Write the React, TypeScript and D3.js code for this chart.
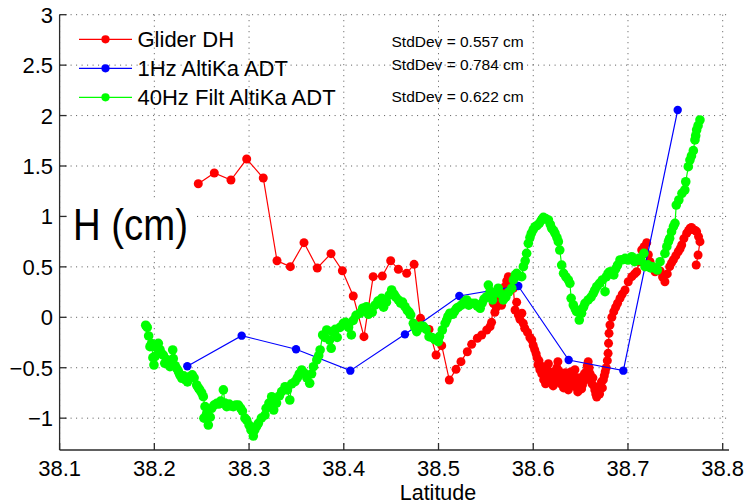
import React from "react";
import * as d3 from "d3";

// ---- Data (latitude, height cm) ----
const gliderDH: [number, number][] = [
  [38.2464, 1.324], [38.2633, 1.431], [38.2809, 1.361], [38.2975, 1.569], [38.315, 1.381],
  [38.3295, 0.561], [38.3436, 0.502], [38.358, 0.74], [38.372, 0.489], [38.3865, 0.631],
  [38.3985, 0.462], [38.41, 0.211], [38.4213, -0.192], [38.431, 0.403], [38.4407, 0.41],
  [38.4495, 0.561], [38.4576, 0.476], [38.4664, 0.436], [38.4742, 0.525], [38.481, -0.01],
  [38.49, -0.12], [38.4974, -0.374], [38.5034, -0.281], [38.5114, -0.622], [38.5185, -0.516],
  [38.5237, -0.44], [38.5304, -0.341], [38.535, -0.268], [38.541, -0.208], [38.5456, -0.175],
  [38.5509, -0.126], [38.5544, -0.093], [38.556, -0.05], [38.5579, 0.139], [38.5595, 0.05],
  [38.561, 0.1], [38.563, 0.18], [38.5649, 0.204], [38.5665, 0.12], [38.568, 0.22],
  [38.5702, 0.303], [38.572, 0.36], [38.5737, 0.403], [38.575, 0.33], [38.5765, 0.38],
  [38.579, 0.288], [38.5808, 0.072], [38.5825, 0.15], [38.5843, 0.023], [38.586, -0.02],
  [38.588, 0.04], [38.5895, -0.06], [38.591, -0.109], [38.594, -0.15], [38.5965, -0.2],
  [38.5985, -0.225], [38.6, -0.28], [38.6015, -0.32], [38.603, -0.36],
  [38.604, -0.4], [38.605, -0.47], [38.606, -0.43], [38.607, -0.52], [38.608, -0.48],
  [38.609, -0.56], [38.61, -0.5], [38.611, -0.62], [38.612, -0.57], [38.613, -0.66],
  [38.614, -0.6], [38.615, -0.52], [38.616, -0.46], [38.617, -0.58], [38.618, -0.64],
  [38.619, -0.55], [38.62, -0.6], [38.621, -0.68], [38.622, -0.54], [38.623, -0.63],
  [38.624, -0.57], [38.625, -0.5], [38.626, -0.44], [38.627, -0.53], [38.628, -0.6],
  [38.629, -0.66], [38.63, -0.58], [38.631, -0.64], [38.632, -0.7], [38.633, -0.61],
  [38.634, -0.55], [38.635, -0.63], [38.636, -0.69], [38.637, -0.72], [38.638, -0.65],
  [38.639, -0.6], [38.64, -0.54], [38.641, -0.62], [38.642, -0.68], [38.643, -0.58],
  [38.644, -0.52], [38.645, -0.61], [38.646, -0.7], [38.647, -0.74], [38.648, -0.66],
  [38.649, -0.6], [38.65, -0.65], [38.651, -0.71], [38.652, -0.67], [38.653, -0.6],
  [38.654, -0.56], [38.655, -0.62], [38.656, -0.54], [38.657, -0.48], [38.658, -0.44],
  [38.659, -0.5], [38.66, -0.56], [38.661, -0.62], [38.662, -0.66], [38.663, -0.6],
  [38.664, -0.68], [38.665, -0.72], [38.666, -0.76], [38.667, -0.79], [38.668, -0.74],
  [38.669, -0.7], [38.67, -0.76], [38.671, -0.68], [38.672, -0.64], [38.673, -0.7],
  [38.674, -0.62], [38.675, -0.58], [38.676, -0.54], [38.677, -0.5], [38.6782, -0.43],
  [38.679, -0.357], [38.6795, -0.258], [38.68, -0.159], [38.681, -0.076], [38.683, 0.0],
  [38.685, 0.056], [38.687, 0.1], [38.689, 0.139], [38.6916, 0.188], [38.694, 0.23],
  [38.6969, 0.271], [38.7003, 0.353], [38.704, 0.403], [38.707, 0.43], [38.7092, 0.452],
  [38.712, 0.55], [38.7145, 0.667], [38.717, 0.7], [38.7198, 0.74], [38.7215, 0.62],
  [38.7233, 0.551], [38.726, 0.5], [38.7286, 0.452], [38.731, 0.47], [38.734, 0.46],
  [38.7365, 0.4], [38.739, 0.353], [38.7415, 0.43], [38.744, 0.502], [38.746, 0.54],
  [38.748, 0.57], [38.7505, 0.61], [38.753, 0.65], [38.755, 0.68], [38.7567, 0.717],
  [38.759, 0.78], [38.762, 0.833], [38.764, 0.86], [38.7655, 0.882], [38.767, 0.89],
  [38.769, 0.87], [38.771, 0.86], [38.7725, 0.849], [38.7745, 0.8], [38.776, 0.75],
  [38.774, 0.618], [38.772, 0.518],
];

const altika1Hz: [number, number][] = [
  [38.2348, -0.486], [38.2922, -0.182], [38.3496, -0.317], [38.4069, -0.529], [38.4646, -0.169],
  [38.522, 0.211], [38.5842, 0.31], [38.6374, -0.423], [38.6951, -0.529], [38.7525, 2.055],
];

const altika40Hz: [number, number][] = [
  [38.1909, -0.079], [38.1925, -0.1], [38.194, -0.185], [38.1954, -0.291], [38.197, -0.26],
  [38.1985, -0.4], [38.1996, -0.473], [38.2007, -0.39], [38.202, -0.3], [38.2042, -0.258],
  [38.206, -0.32], [38.2075, -0.36], [38.2095, -0.374], [38.211, -0.456], [38.213, -0.42],
  [38.215, -0.47], [38.2165, -0.49], [38.218, -0.45], [38.2194, -0.324], [38.22, -0.41],
  [38.222, -0.48], [38.2236, -0.506], [38.2255, -0.54], [38.227, -0.572], [38.229, -0.605],
  [38.231, -0.58], [38.233, -0.62], [38.235, -0.64], [38.237, -0.59], [38.24, -0.57],
  [38.242, -0.6], [38.2447, -0.671], [38.2465, -0.7], [38.248, -0.72], [38.25, -0.75],
  [38.2517, -0.787], [38.2535, -0.886], [38.2524, -1.0], [38.2553, -0.952], [38.257, -1.068],
  [38.259, -0.99], [38.2606, -0.902], [38.263, -0.87], [38.2659, -0.853], [38.268, -0.86],
  [38.27, -0.83], [38.2729, -0.72], [38.2745, -0.85], [38.2764, -0.886], [38.279, -0.86],
  [38.281, -0.88], [38.2834, -0.886], [38.286, -0.87], [38.2887, -0.87], [38.291, -0.9],
  [38.293, -0.93], [38.2957, -1.0], [38.2975, -1.02], [38.3, -1.068], [38.302, -1.117],
  [38.3045, -1.177], [38.306, -1.117], [38.308, -1.08], [38.3098, -1.051], [38.313, -1.0],
  [38.3168, -0.969], [38.318, -0.902], [38.321, -0.85], [38.3239, -0.787], [38.326, -0.919],
  [38.329, -0.85], [38.332, -0.78], [38.3344, -0.737], [38.338, -0.688], [38.3405, -0.72],
  [38.343, -0.82], [38.345, -0.66], [38.3485, -0.638], [38.351, -0.6], [38.353, -0.56],
  [38.3556, -0.522], [38.358, -0.55], [38.361, -0.6], [38.364, -0.654], [38.366, -0.56],
  [38.368, -0.49], [38.3715, -0.423], [38.3735, -0.38], [38.375, -0.324], [38.3777, -0.175],
  [38.38, -0.2], [38.382, -0.126], [38.385, -0.225], [38.3867, -0.307], [38.388, -0.142],
  [38.391, -0.12], [38.393, -0.2], [38.396, -0.1], [38.3995, -0.06], [38.402, -0.05],
  [38.405, -0.1], [38.408, -0.175], [38.41, -0.03], [38.413, 0.02], [38.417, 0.04],
  [38.42, 0.09], [38.424, 0.105], [38.426, 0.03], [38.43, 0.05], [38.433, 0.12],
  [38.436, 0.16], [38.4382, 0.139], [38.44, 0.188], [38.442, 0.1], [38.445, 0.15],
  [38.448, 0.22], [38.4505, 0.271], [38.453, 0.23], [38.455, 0.2], [38.4576, 0.172],
  [38.46, 0.14], [38.462, 0.15], [38.4646, 0.105], [38.467, 0.07], [38.469, 0.05],
  [38.4706, 0.023], [38.4734, -0.06], [38.475, -0.1], [38.477, -0.142], [38.479, -0.11],
  [38.4815, -0.087], [38.484, -0.09], [38.487, -0.12], [38.49, -0.192], [38.493, -0.2],
  [38.496, -0.22], [38.4998, -0.241], [38.501, -0.19], [38.504, -0.126], [38.507, -0.06],
  [38.5086, -0.027], [38.51, 0.01], [38.512, 0.04], [38.515, 0.03], [38.517, 0.06],
  [38.519, 0.089], [38.521, 0.1], [38.524, 0.12], [38.527, 0.15], [38.5297, 0.172],
  [38.532, 0.12], [38.535, 0.14], [38.5385, 0.139], [38.541, 0.11], [38.544, 0.089],
  [38.546, 0.14], [38.548, 0.18], [38.5509, 0.204], [38.5526, 0.32], [38.5545, 0.26],
  [38.557, 0.172], [38.56, 0.24], [38.563, 0.288], [38.566, 0.23], [38.5684, 0.172],
  [38.571, 0.2], [38.574, 0.25], [38.5773, 0.288], [38.579, 0.37], [38.581, 0.42],
  [38.5825, 0.436], [38.585, 0.41], [38.5878, 0.403], [38.5896, 0.502], [38.5915, 0.56],
  [38.593, 0.634], [38.5948, 0.733], [38.5965, 0.79], [38.598, 0.833], [38.6, 0.87],
  [38.6019, 0.898], [38.604, 0.91], [38.6064, 0.932], [38.6085, 0.96], [38.6107, 0.991],
  [38.613, 0.98], [38.616, 0.965], [38.618, 0.92], [38.6195, 0.882], [38.6215, 0.86],
  [38.623, 0.833], [38.625, 0.79], [38.6265, 0.75], [38.628, 0.667], [38.63, 0.518],
  [38.632, 0.436], [38.6345, 0.4], [38.637, 0.37], [38.6387, 0.337], [38.64, 0.188],
  [38.6423, 0.122], [38.6445, 0.08], [38.6458, 0.056], [38.6486, -0.027], [38.651, 0.04],
  [38.653, 0.1], [38.6546, 0.139], [38.658, 0.172], [38.661, 0.2], [38.6634, 0.238],
  [38.665, 0.27], [38.667, 0.304], [38.67, 0.337], [38.673, 0.37], [38.6758, 0.254],
  [38.677, 0.4], [38.679, 0.436], [38.681, 0.452], [38.683, 0.43], [38.685, 0.42],
  [38.687, 0.48], [38.689, 0.518], [38.6916, 0.568], [38.694, 0.57], [38.697, 0.585],
  [38.7, 0.568], [38.704, 0.601], [38.707, 0.551], [38.709, 0.57], [38.7115, 0.585],
  [38.714, 0.56], [38.7168, 0.634], [38.718, 0.502], [38.721, 0.52], [38.724, 0.49],
  [38.726, 0.5], [38.7286, 0.486], [38.731, 0.469], [38.7339, 0.551], [38.739, 0.634],
  [38.741, 0.7], [38.7427, 0.75], [38.744, 0.783], [38.746, 0.849], [38.748, 0.9],
  [38.7496, 0.932], [38.751, 1.113], [38.7537, 1.163], [38.757, 1.229], [38.76, 1.262],
  [38.761, 1.344], [38.7637, 1.493], [38.7654, 1.559], [38.767, 1.6], [38.769, 1.652],
  [38.7707, 1.758], [38.7715, 1.8], [38.7725, 1.857], [38.774, 1.9], [38.776, 1.956],
];

const xTicks = [38.1, 38.2, 38.3, 38.4, 38.5, 38.6, 38.7, 38.8];
const yTicks = [-1, -0.5, 0, 0.5, 1, 1.5, 2, 2.5, 3];
const seriesNames = ["Glider DH", "1Hz AltiKa ADT", "40Hz Filt AltiKa ADT"];
const seriesColors = ["#ff0000", "#0000ff", "#00ff00"];
const stdDevLabels = ["StdDev = 0.557 cm", "StdDev = 0.784 cm", "StdDev = 0.622 cm"];

const W = 748;
const H = 504;
const FONT = "'Liberation Sans', Arial, Helvetica, sans-serif";

export default function App() {
  const x = d3.scaleLinear().domain([38.1, 38.8]).range([59.6, 722.7]);
  const y = d3.scaleLinear().domain([0, 3]).range([317.3, 14.7]);
  const left = x(38.1);
  const right = 729;
  const top = y(3);
  const bottom = 450;

  const line = d3
    .line<[number, number]>()
    .x((d) => x(d[0]))
    .y((d) => y(d[1]));

  const series = [gliderDH, altika1Hz, altika40Hz];
  const markerR = [4.5, 4.2, 4.8];
  const fmtY = (v: number) => (v < 0 ? "\u2212" + String(-v) : String(v));

  const legendRows = [39.3, 68.3, 97.3];
  const stdRows = [41, 64, 96.5];

  return (
    <svg
      width={W}
      height={H}
      style={{ position: "absolute", left: 0, top: 0, background: "#fff" }}
      fontFamily={FONT}
    >
      <rect x={0} y={0} width={W} height={H} fill="#fff" />
      {/* grid */}
      <g stroke="#555" strokeWidth={1} strokeDasharray="1,4.5">
        {xTicks.map((t) => (
          <line key={"gx" + t} x1={x(t)} x2={x(t)} y1={top} y2={bottom} />
        ))}
        {yTicks.map((t) => (
          <line key={"gy" + t} x1={left} x2={right} y1={y(t)} y2={y(t)} />
        ))}
      </g>

      {/* series lines + markers */}
      {series.map((s, i) => (
        <g key={"s" + i}>
          <path d={line(s) || ""} fill="none" stroke={seriesColors[i]} strokeWidth={1.2} />
          {s.map((d, j) => (
            <circle key={j} cx={x(d[0])} cy={y(d[1])} r={markerR[i]} fill={seriesColors[i]} />
          ))}
        </g>
      ))}

      {/* axes */}
      <g stroke="#2b2b2b" strokeWidth={1.3} fill="none">
        <line x1={left} x2={right} y1={bottom} y2={bottom} />
        <line x1={left} x2={left} y1={top} y2={bottom} />
        {xTicks.map((t) => (
          <line key={"tx" + t} x1={x(t)} x2={x(t)} y1={bottom} y2={bottom - 7} />
        ))}
        {yTicks.map((t) => (
          <line key={"ty" + t} x1={left} x2={left + 7} y1={y(t)} y2={y(t)} />
        ))}
      </g>

      {/* tick labels */}
      <g fontSize={22} fill="#000">
        {xTicks.map((t) => (
          <text key={"lx" + t} x={x(t)} y={476} textAnchor="middle">
            {t.toFixed(1)}
          </text>
        ))}
        {yTicks.map((t) => (
          <text key={"ly" + t} x={53} y={y(t) + 8} textAnchor="end">
            {fmtY(t)}
          </text>
        ))}
      </g>

      {/* x label */}
      <text x={438} y={500} textAnchor="middle" fontSize={21.5} fill="#000">
        Latitude
      </text>

      {/* y label with white background */}
      <rect x={68} y={198} width={127} height={51} fill="#fff" />
      <text
        x={73}
        y={240}
        fontSize={44}
        fill="#000"
        textLength={115}
        lengthAdjust="spacingAndGlyphs"
      >
        H (cm)
      </text>

      {/* legend */}
      {seriesNames.map((n, i) => (
        <g key={"lg" + i}>
          <line
            x1={79}
            x2={132}
            y1={legendRows[i]}
            y2={legendRows[i]}
            stroke={seriesColors[i]}
            strokeWidth={1.2}
          />
          <circle cx={105.5} cy={legendRows[i]} r={4.1} fill={seriesColors[i]} />
          <text x={137.5} y={legendRows[i] + 7.5} fontSize={22} fill="#000">
            {n}
          </text>
        </g>
      ))}

      {/* std dev annotations */}
      {stdDevLabels.map((s, i) => (
        <text key={"sd" + i} x={391.5} y={stdRows[i] + 5.5} fontSize={15.5} fill="#000">
          {s}
        </text>
      ))}
    </svg>
  );
}
